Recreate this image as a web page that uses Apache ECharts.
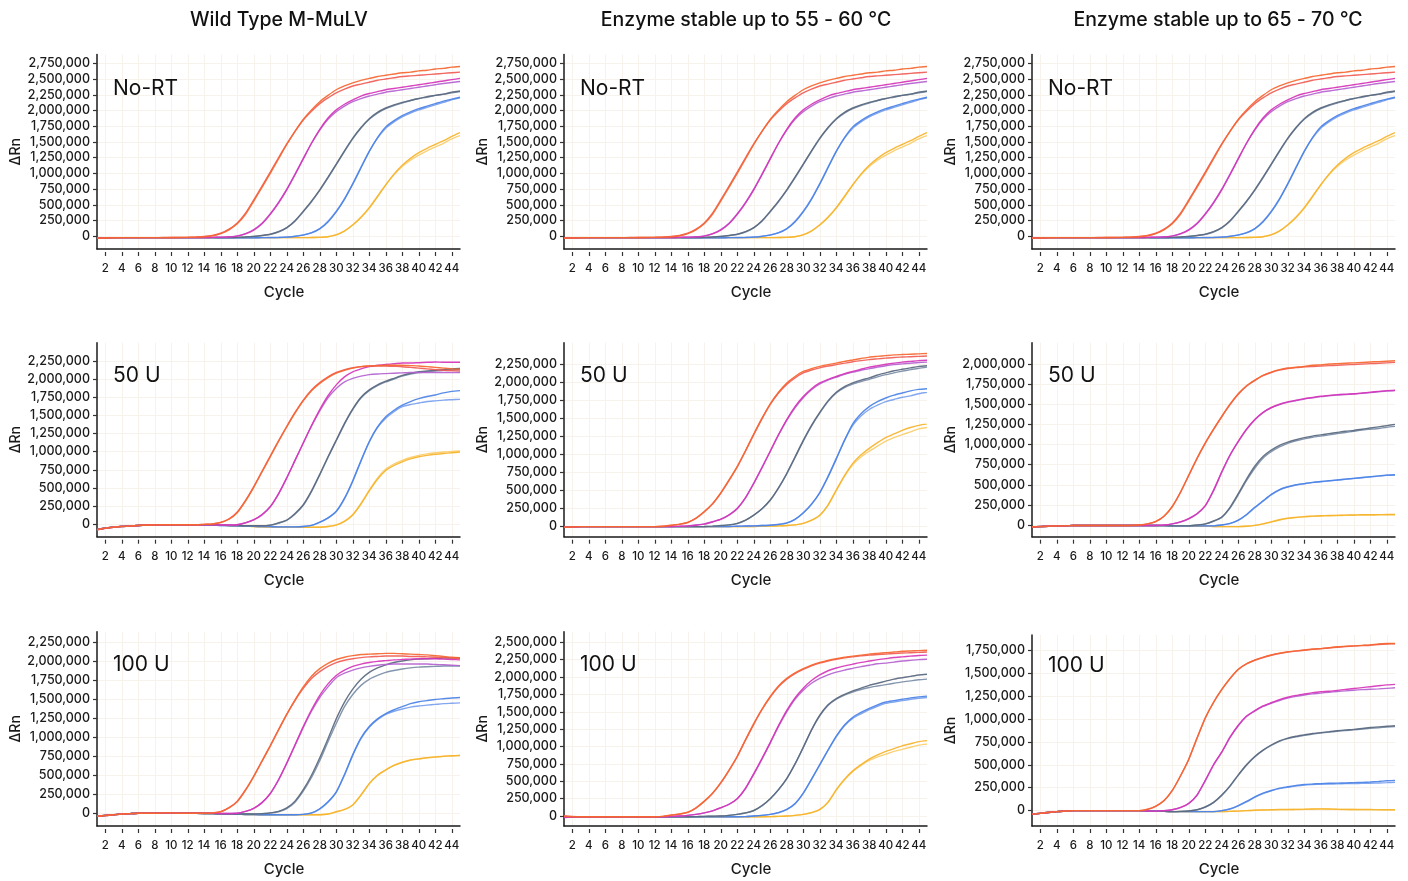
<!DOCTYPE html>
<html><head><meta charset="utf-8">
<script src="https://cdn.jsdelivr.net/npm/echarts@6/dist/echarts.min.js"></script>
<style>html,body{margin:0;padding:0;background:#fff}#chart{width:1408px;height:881px}</style>
</head><body><div id="chart"></div>
<script>
// ---------- categories / labels ----------
const cycles = [1,2,3,4,5,6,7,8,9,10,11,12,13,14,15,16,17,18,19,20,21,22,23,24,25,26,27,28,29,30,31,32,33,34,35,36,37,38,39,40,41,42,43,44,45];
const colTitles = ['Wild Type M-MuLV', 'Enzyme stable up to 55 - 60 °C', 'Enzyme stable up to 65 - 70 °C'];
const rowLabels = ['No-RT', '50 U', '100 U'];
const xTicks = [2,4,6,8,10,12,14,16,18,20,22,24,26,28,30,32,34,36,38,40,42,44];
const yTicks2750 = [0,250000,500000,750000,1000000,1250000,1500000,1750000,2000000,2250000,2500000,2750000];
const yTicks2500 = [0,250000,500000,750000,1000000,1250000,1500000,1750000,2000000,2250000,2500000];
const yTicks2250 = [0,250000,500000,750000,1000000,1250000,1500000,1750000,2000000,2250000];
const yTicks2000 = [0,250000,500000,750000,1000000,1250000,1500000,1750000,2000000];
const yTicks1750 = [0,250000,500000,750000,1000000,1250000,1500000,1750000];

// ---------- ΔRn values (thousands), cycles 1..45 ----------
// No-RT (same in all three columns)
const nrRed1 = [-30,-25,-22,-20,-20,-20,-20,-20,-20,-18,-18,-15,-12,-5,10,45,105,200,350,560,780,1000,1230,1460,1670,1860,2010,2140,2240,2330,2390,2440,2480,2510,2540,2560,2580,2600,2610,2630,2640,2660,2670,2690,2700];
const nrRed2 = [-25,-22,-20,-20,-20,-20,-20,-20,-18,-18,-16,-14,-10,-2,15,50,115,215,370,580,800,1020,1250,1470,1670,1850,1990,2110,2200,2280,2340,2390,2420,2450,2480,2500,2520,2540,2550,2560,2570,2580,2590,2600,2610];
const nrMag1 = [-25,-22,-20,-20,-20,-20,-20,-20,-20,-20,-20,-20,-20,-18,-16,-12,-8,5,40,100,200,350,530,740,980,1230,1480,1700,1880,2010,2100,2170,2230,2270,2300,2330,2350,2370,2390,2410,2430,2450,2470,2490,2510];
const nrMag2 = [-28,-24,-20,-20,-20,-20,-20,-20,-20,-20,-20,-20,-20,-18,-16,-12,-6,8,45,110,210,360,540,750,990,1240,1480,1690,1860,1980,2070,2140,2190,2230,2260,2290,2310,2330,2350,2370,2390,2410,2430,2445,2460];
const nrGray1 = [-25,-22,-20,-20,-20,-20,-20,-20,-20,-20,-20,-20,-20,-20,-20,-20,-18,-15,-10,0,15,35,75,140,250,400,560,740,940,1150,1360,1560,1730,1870,1970,2040,2090,2130,2160,2190,2220,2240,2260,2290,2310];
const nrGray2 = [-22,-20,-20,-20,-20,-20,-20,-20,-20,-20,-20,-20,-20,-20,-20,-20,-18,-15,-10,-2,12,32,70,135,240,390,550,730,930,1140,1350,1550,1720,1860,1960,2030,2080,2120,2160,2190,2210,2240,2260,2280,2300];
const nrBlue1 = [-25,-22,-20,-20,-20,-20,-20,-20,-20,-20,-20,-20,-20,-20,-20,-22,-22,-22,-22,-22,-20,-20,-18,-12,0,20,55,120,230,390,590,830,1090,1350,1570,1740,1840,1920,1980,2030,2070,2110,2150,2180,2210];
const nrBlue2 = [-22,-20,-20,-20,-20,-20,-20,-20,-20,-20,-20,-20,-20,-20,-20,-22,-22,-22,-22,-22,-20,-18,-16,-10,2,25,60,125,240,400,600,840,1100,1350,1560,1720,1820,1900,1960,2010,2050,2090,2130,2170,2200];
const nrYel1 = [-25,-22,-20,-20,-20,-20,-20,-20,-20,-20,-20,-20,-20,-20,-20,-20,-20,-20,-20,-20,-20,-20,-20,-20,-20,-20,-18,-15,-5,25,85,180,300,450,630,820,990,1130,1240,1330,1400,1460,1520,1590,1650];
const nrYel2 = [-22,-20,-20,-20,-20,-20,-20,-20,-20,-20,-20,-20,-20,-20,-20,-20,-20,-20,-20,-20,-20,-20,-20,-20,-20,-20,-18,-14,-3,28,90,185,310,460,640,820,980,1110,1210,1290,1360,1420,1480,1550,1600];

// Wild Type, 50 U
const wt50Red1 = [-75,-55,-40,-30,-25,-15,-10,-8,-5,-5,-5,-5,-5,0,5,25,70,160,320,510,720,930,1140,1340,1530,1700,1840,1940,2020,2080,2120,2150,2170,2180,2185,2190,2190,2190,2185,2180,2170,2160,2150,2140,2135];
const wt50Red2 = [-70,-50,-38,-28,-22,-15,-10,-8,-5,-5,-5,-5,-5,0,6,28,75,170,330,520,730,940,1150,1350,1540,1710,1850,1950,2030,2090,2130,2155,2170,2180,2180,2180,2175,2170,2160,2150,2140,2130,2120,2115,2110];
const wt50Mag1 = [-75,-55,-40,-30,-25,-15,-10,-8,-5,-5,-5,-5,-5,-5,-5,-8,-10,-5,20,60,130,240,420,640,880,1120,1360,1580,1770,1920,2030,2100,2140,2170,2190,2200,2210,2220,2220,2225,2230,2235,2230,2230,2230];
const wt50Mag2 = [-72,-52,-38,-28,-22,-15,-10,-8,-5,-5,-5,-5,-5,-5,-5,-8,-10,-5,22,65,135,245,420,640,880,1120,1350,1560,1740,1870,1960,2010,2040,2060,2070,2075,2080,2085,2090,2090,2090,2090,2090,2090,2090];
const wt50Gray1 = [-70,-50,-38,-28,-22,-15,-10,-8,-5,-5,-5,-5,-5,-8,-10,-12,-15,-18,-20,-20,-20,-10,20,60,150,270,460,690,930,1160,1390,1590,1750,1850,1920,1970,2010,2050,2080,2100,2110,2120,2130,2140,2145];
const wt50Gray2 = [-72,-52,-40,-30,-24,-16,-10,-8,-5,-5,-5,-5,-5,-8,-10,-12,-15,-18,-20,-20,-20,-12,15,55,140,260,450,680,920,1150,1380,1580,1740,1840,1910,1960,2000,2040,2070,2090,2100,2110,2120,2125,2130];
const wt50Blue1 = [-70,-50,-38,-28,-22,-15,-10,-8,-5,-5,-5,-5,-8,-10,-12,-15,-18,-20,-25,-28,-30,-32,-35,-35,-35,-30,-15,30,90,180,360,600,880,1140,1340,1480,1570,1640,1690,1730,1760,1780,1810,1830,1840];
const wt50Blue2 = [-72,-52,-40,-30,-24,-16,-10,-8,-5,-5,-5,-5,-8,-10,-12,-15,-18,-20,-25,-28,-30,-32,-35,-35,-35,-30,-15,28,85,175,350,590,870,1130,1330,1460,1550,1620,1650,1670,1690,1700,1710,1715,1720];
const wt50Yel1 = [-70,-50,-38,-28,-22,-15,-10,-8,-5,-5,-5,-5,-5,-5,-5,-10,-15,-20,-25,-30,-35,-38,-40,-40,-40,-40,-40,-40,-30,-10,40,130,280,460,620,740,810,860,900,930,950,965,975,985,995];
const wt50Yel2 = [-72,-52,-40,-30,-24,-16,-10,-8,-5,-5,-5,-5,-5,-5,-5,-10,-15,-20,-25,-30,-35,-38,-40,-40,-40,-40,-40,-40,-30,-8,45,135,290,470,635,760,830,880,920,950,970,985,995,1005,1010];

// 55-60 °C enzyme, 50 U
const e50Red1 = [-20,-15,-10,-10,-10,-10,-10,-10,-10,-10,-10,-10,-5,10,25,50,110,200,310,460,640,830,1050,1280,1500,1700,1860,1990,2080,2150,2190,2220,2245,2265,2290,2310,2330,2350,2360,2370,2380,2385,2390,2395,2400];
const e50Red2 = [-18,-14,-10,-10,-10,-10,-10,-10,-10,-10,-10,-10,-5,8,22,48,105,195,305,455,630,820,1040,1270,1490,1690,1850,1970,2060,2130,2170,2200,2225,2245,2265,2285,2300,2315,2325,2335,2345,2350,2355,2360,2365];
const e50Mag1 = [-20,-15,-10,-10,-10,-10,-10,-10,-10,-10,-10,-10,-10,-8,-5,0,10,25,55,90,150,240,390,590,810,1040,1270,1480,1660,1800,1910,1990,2040,2080,2120,2150,2180,2210,2230,2250,2265,2280,2290,2300,2305];
const e50Mag2 = [-18,-14,-10,-10,-10,-10,-10,-10,-10,-10,-10,-10,-10,-8,-5,0,12,28,58,95,155,245,395,595,815,1040,1265,1470,1645,1785,1895,1975,2030,2070,2110,2140,2165,2190,2210,2230,2245,2255,2265,2275,2280];
const e50Gray1 = [-20,-15,-10,-10,-10,-10,-10,-10,-10,-10,-10,-10,-10,-10,-10,-10,-10,-8,-3,5,15,35,80,150,240,360,530,730,960,1190,1400,1580,1740,1860,1940,1990,2030,2060,2100,2130,2160,2180,2200,2220,2230];
const e50Gray2 = [-18,-14,-10,-10,-10,-10,-10,-10,-10,-10,-10,-10,-10,-10,-10,-10,-10,-8,-3,4,14,33,78,148,238,358,525,725,950,1180,1390,1570,1730,1850,1925,1975,2010,2040,2075,2105,2130,2155,2175,2195,2210];
const e50Blue1 = [-20,-15,-10,-10,-10,-10,-10,-10,-10,-10,-10,-10,-10,-10,-10,-10,-10,-10,-10,-10,-8,-5,-2,0,5,10,20,40,90,180,300,460,680,930,1190,1420,1560,1660,1730,1780,1820,1850,1880,1900,1910];
const e50Blue2 = [-18,-14,-10,-10,-10,-10,-10,-10,-10,-10,-10,-10,-10,-10,-10,-10,-10,-10,-10,-10,-8,-5,-2,0,5,10,22,42,92,182,305,465,690,940,1190,1400,1530,1620,1680,1730,1760,1790,1810,1840,1860];
const e50Yel1 = [-20,-15,-10,-10,-10,-10,-10,-10,-10,-10,-10,-10,-10,-10,-10,-10,-10,-10,-10,-10,-10,-10,-10,-8,-5,-2,0,5,15,35,80,150,290,500,700,870,990,1080,1160,1230,1280,1330,1370,1400,1420];
const e50Yel2 = [-18,-14,-10,-10,-10,-10,-10,-10,-10,-10,-10,-10,-10,-10,-10,-10,-10,-10,-10,-10,-10,-10,-10,-8,-5,-2,0,5,15,35,78,145,285,490,690,850,960,1040,1110,1180,1230,1270,1310,1350,1370];

// 65-70 °C enzyme, 50 U
const h50Red1 = [-25,-20,-15,-10,-10,-5,-5,-5,-5,-5,-5,-5,-5,0,15,45,110,230,410,620,830,1020,1190,1350,1500,1630,1730,1800,1860,1900,1930,1950,1960,1970,1985,1990,2000,2005,2010,2015,2020,2025,2030,2035,2040];
const h50Red2 = [-22,-18,-14,-10,-10,-5,-5,-5,-5,-5,-5,-5,-5,0,14,43,108,228,405,615,825,1015,1185,1345,1495,1625,1725,1795,1855,1895,1925,1945,1955,1965,1970,1975,1980,1985,1990,1995,2000,2005,2010,2015,2020];
const h50Mag1 = [-25,-20,-15,-10,-10,-5,-5,-5,-5,-5,-5,-5,-5,-5,-5,-5,0,15,40,80,140,240,430,660,870,1040,1190,1310,1400,1460,1500,1530,1550,1570,1585,1600,1610,1620,1625,1630,1640,1650,1660,1670,1675];
const h50Mag2 = [-22,-18,-14,-10,-10,-5,-5,-5,-5,-5,-5,-5,-5,-5,-5,-5,0,14,38,78,138,238,425,655,865,1035,1185,1305,1395,1455,1495,1525,1545,1565,1580,1595,1605,1615,1620,1628,1636,1645,1655,1665,1670];
const h50Gray1 = [-25,-20,-15,-10,-10,-5,-5,-5,-5,-5,-5,-5,-5,-5,-5,-5,-8,-10,-10,-10,0,15,50,100,220,390,570,730,850,930,990,1030,1060,1085,1105,1120,1135,1150,1165,1175,1190,1205,1220,1235,1250];
const h50Gray2 = [-22,-18,-14,-10,-10,-5,-5,-5,-5,-5,-5,-5,-5,-5,-5,-5,-8,-10,-10,-10,-2,12,45,95,210,375,550,705,830,910,970,1015,1045,1070,1090,1105,1120,1135,1150,1165,1180,1190,1200,1215,1225];
const h50Blue1 = [-25,-20,-15,-10,-10,-5,-5,-5,-5,-5,-5,-5,-5,-5,-5,-5,-8,-10,-10,-10,-10,-10,-10,0,20,60,130,220,300,380,440,475,500,515,530,540,550,560,570,580,590,600,610,620,625];
const h50Blue2 = [-22,-18,-14,-10,-10,-5,-5,-5,-5,-5,-5,-5,-5,-5,-5,-5,-8,-10,-10,-10,-10,-10,-10,0,18,58,125,215,295,375,435,470,495,512,527,537,548,558,568,578,588,598,608,618,622];
const h50Yel1 = [-25,-20,-15,-10,-10,-5,-5,-5,-5,-5,-5,-5,-5,-5,-5,-5,-8,-10,-10,-12,-15,-15,-18,-20,-20,-20,-15,-5,15,40,65,85,95,105,110,115,118,120,123,125,127,128,129,130,130];
const h50Yel2 = [-22,-18,-14,-10,-10,-5,-5,-5,-5,-5,-5,-5,-5,-5,-5,-5,-8,-10,-10,-12,-15,-15,-18,-20,-20,-20,-15,-5,14,38,62,82,93,102,108,112,115,118,120,122,124,125,126,127,128];

// Wild Type, 100 U
const wt100Red1 = [-40,-30,-20,-10,-5,0,0,0,5,5,0,0,0,0,5,20,70,150,300,480,680,880,1090,1300,1490,1660,1800,1900,1970,2020,2050,2070,2085,2090,2095,2100,2100,2095,2090,2085,2080,2070,2060,2050,2045];
const wt100Red2 = [-38,-28,-18,-10,-5,0,0,0,5,5,0,0,0,0,5,22,75,160,310,490,690,890,1100,1300,1480,1640,1770,1860,1930,1980,2010,2030,2045,2055,2060,2065,2065,2065,2060,2060,2055,2050,2045,2040,2030];
const wt100Mag1 = [-40,-30,-20,-10,-5,0,0,0,5,5,0,0,0,0,0,-2,-2,0,25,65,140,260,440,660,900,1140,1360,1550,1700,1810,1880,1930,1960,1980,1995,2005,2015,2020,2025,2030,2030,2030,2025,2020,2015];
const wt100Mag2 = [-38,-28,-18,-10,-5,0,0,0,5,5,0,0,0,0,0,-2,-2,0,25,65,140,258,435,655,890,1125,1340,1520,1660,1780,1840,1880,1910,1930,1945,1955,1960,1960,1960,1960,1960,1955,1950,1945,1940];
const wt100Gray1 = [-40,-30,-20,-10,-5,0,0,0,5,5,0,0,0,-2,-5,-8,-10,-10,-10,-10,-5,5,25,70,160,310,500,730,980,1240,1460,1630,1760,1850,1910,1950,1980,2000,2015,2025,2030,2035,2040,2040,2040];
const wt100Gray2 = [-38,-28,-18,-10,-5,0,0,0,5,5,0,0,0,-2,-5,-8,-10,-10,-10,-10,-5,3,20,62,145,290,470,690,940,1180,1400,1560,1680,1760,1810,1850,1875,1895,1910,1920,1925,1930,1935,1935,1935];
const wt100Blue1 = [-40,-30,-20,-10,-5,0,0,0,5,5,0,0,0,-2,-5,-8,-10,-12,-15,-18,-20,-20,-20,-20,-20,-15,5,60,150,280,510,770,990,1140,1240,1310,1360,1400,1440,1465,1480,1495,1505,1515,1520];
const wt100Blue2 = [-38,-28,-18,-10,-5,0,0,0,5,5,0,0,0,-2,-5,-8,-10,-12,-15,-18,-20,-20,-20,-20,-20,-15,3,55,145,275,500,760,980,1130,1230,1300,1340,1370,1395,1410,1420,1430,1440,1445,1450];
const wt100Yel1 = [-40,-30,-20,-10,-5,0,0,0,5,5,0,0,0,-2,-5,-8,-10,-12,-15,-18,-20,-20,-20,-20,-20,-20,-20,-20,-10,20,50,110,240,390,500,570,630,670,700,715,730,740,750,755,760];
const wt100Yel2 = [-38,-28,-18,-10,-5,0,0,0,5,5,0,0,0,-2,-5,-8,-10,-12,-15,-18,-20,-20,-20,-20,-20,-20,-20,-20,-10,18,48,108,238,388,498,568,628,668,698,713,728,738,748,753,758];

// 55-60 °C enzyme, 100 U
const e100Red1 = [-5,-10,-10,-10,-10,-10,-10,-10,-10,-10,-10,-10,-5,15,30,55,120,215,330,480,660,860,1100,1330,1540,1720,1870,1980,2060,2120,2170,2210,2240,2265,2285,2300,2315,2330,2340,2350,2360,2370,2375,2380,2385];
const e100Red2 = [5,-5,-10,-10,-10,-10,-10,-10,-10,-10,-10,-10,-5,13,28,52,115,210,325,475,655,855,1090,1320,1530,1710,1860,1970,2050,2110,2160,2200,2230,2255,2275,2290,2305,2315,2325,2330,2338,2345,2350,2355,2360];
const e100Mag1 = [-20,-15,-12,-10,-10,-10,-10,-10,-10,-10,-10,-10,-10,-5,0,10,25,45,75,120,170,250,400,610,830,1060,1300,1520,1700,1840,1950,2030,2090,2130,2160,2185,2210,2230,2250,2265,2280,2290,2300,2310,2315];
const e100Mag2 = [-18,-14,-12,-10,-10,-10,-10,-10,-10,-10,-10,-10,-10,-5,0,10,25,45,75,118,168,248,395,600,820,1050,1290,1500,1680,1810,1910,1980,2030,2070,2100,2125,2150,2170,2190,2200,2215,2230,2240,2250,2255];
const e100Gray1 = [-10,-10,-10,-10,-10,-10,-10,-10,-10,-10,-10,-10,-10,-10,-10,-10,-8,-5,-2,0,10,25,45,80,150,250,380,540,750,990,1240,1450,1600,1690,1750,1800,1840,1880,1910,1940,1970,1990,2010,2030,2040];
const e100Gray2 = [-10,-10,-10,-10,-10,-10,-10,-10,-10,-10,-10,-10,-10,-10,-10,-10,-8,-5,-2,0,10,24,44,78,148,248,378,538,745,985,1235,1440,1590,1680,1740,1785,1820,1850,1870,1890,1910,1930,1945,1960,1970];
const e100Blue1 = [-10,-10,-10,-10,-10,-10,-10,-10,-10,-10,-10,-10,-10,-10,-10,-10,-10,-10,-10,-10,-10,-10,-8,0,10,25,50,95,180,330,530,740,950,1150,1310,1420,1490,1550,1600,1640,1660,1680,1700,1715,1725];
const e100Blue2 = [-10,-10,-10,-10,-10,-10,-10,-10,-10,-10,-10,-10,-10,-10,-10,-10,-10,-10,-10,-10,-10,-10,-8,0,10,25,48,92,175,325,525,735,945,1140,1300,1405,1470,1530,1580,1620,1640,1660,1680,1695,1705];
const e100Yel1 = [-10,-10,-10,-10,-10,-10,-10,-10,-10,-10,-10,-10,-10,-10,-10,-10,-10,-10,-10,-10,-10,-10,-10,-10,-10,-8,-5,0,10,25,50,95,200,380,530,650,740,820,880,930,970,1010,1040,1070,1085];
const e100Yel2 = [-10,-10,-10,-10,-10,-10,-10,-10,-10,-10,-10,-10,-10,-10,-10,-10,-10,-10,-10,-10,-10,-10,-10,-10,-10,-8,-5,0,10,25,48,92,195,370,520,640,730,800,850,890,930,960,990,1020,1035];

// 65-70 °C enzyme, 100 U
const h100Red1 = [-40,-30,-20,-10,-5,0,0,0,0,0,0,0,0,0,15,50,110,220,380,560,790,1010,1180,1320,1440,1540,1600,1640,1670,1695,1715,1730,1740,1750,1760,1765,1775,1785,1790,1795,1800,1805,1815,1820,1820];
const h100Red2 = [-38,-28,-18,-10,-5,0,0,0,0,0,0,0,0,0,14,48,108,218,378,558,788,1008,1178,1318,1438,1538,1598,1638,1668,1692,1712,1727,1737,1747,1757,1762,1772,1780,1786,1792,1797,1802,1810,1815,1818];
const h100Mag1 = [-40,-30,-20,-10,-5,0,0,0,0,0,0,0,0,0,-3,-5,0,10,35,80,170,330,500,640,800,930,1030,1090,1140,1175,1210,1235,1255,1270,1285,1295,1300,1310,1320,1330,1340,1350,1360,1370,1375];
const h100Mag2 = [-38,-28,-18,-10,-5,0,0,0,0,0,0,0,0,0,-3,-5,0,10,33,78,168,325,495,635,795,925,1025,1085,1135,1170,1200,1225,1245,1260,1272,1280,1290,1298,1305,1312,1318,1322,1326,1332,1338];
const h100Gray1 = [-40,-30,-20,-10,-5,0,0,0,0,0,0,0,0,0,-3,-5,-8,-10,-8,-3,10,40,90,170,270,390,500,590,660,715,760,790,810,825,840,850,860,870,878,885,895,905,912,920,925];
const h100Gray2 = [-38,-28,-18,-10,-5,0,0,0,0,0,0,0,0,0,-3,-5,-8,-10,-8,-3,8,38,88,166,265,385,495,585,655,710,755,785,805,820,835,845,855,865,872,880,888,896,903,910,915];
const h100Blue1 = [-40,-30,-20,-10,-5,0,0,0,0,0,0,0,0,0,-3,-5,-8,-10,-10,-10,-10,-10,-10,0,20,55,100,150,190,220,245,260,275,285,290,295,298,300,302,305,308,312,318,325,330];
const h100Blue2 = [-38,-28,-18,-10,-5,0,0,0,0,0,0,0,0,0,-3,-5,-8,-10,-10,-10,-10,-10,-10,0,18,52,95,145,185,215,240,255,268,278,284,288,290,292,294,295,297,299,301,305,310];
const h100Yel1 = [-40,-30,-20,-10,-5,0,0,0,0,0,0,0,0,0,-3,-5,-8,-10,-10,-10,-10,-10,-10,-10,-8,-5,0,5,8,10,12,12,14,15,18,20,18,15,14,13,12,12,11,10,10];
const h100Yel2 = [-38,-28,-18,-10,-5,0,0,0,0,0,0,0,0,0,-3,-5,-8,-10,-10,-10,-10,-10,-10,-10,-8,-5,0,4,7,9,11,11,13,14,16,18,17,14,13,12,11,11,10,9,9];

const UNIT = 1000;

// ---------- panel assembly ----------
const noRT = [[nrRed1,nrRed2],[nrMag1,nrMag2],[nrGray1,nrGray2],[nrBlue1,nrBlue2],[nrYel1,nrYel2]];
const panels = [
  {row:0,col:0,lines:noRT,yMin:-200000,yMax:2890000,ticks:yTicks2750},
  {row:0,col:1,lines:noRT,yMin:-200000,yMax:2890000,ticks:yTicks2750},
  {row:0,col:2,lines:noRT,yMin:-200000,yMax:2890000,ticks:yTicks2750},
  {row:1,col:0,lines:[[wt50Red1,wt50Red2],[wt50Mag1,wt50Mag2],[wt50Gray1,wt50Gray2],[wt50Blue1,wt50Blue2],[wt50Yel1,wt50Yel2]],yMin:-170000,yMax:2500000,ticks:yTicks2250},
  {row:1,col:1,lines:[[e50Red1,e50Red2],[e50Mag1,e50Mag2],[e50Gray1,e50Gray2],[e50Blue1,e50Blue2],[e50Yel1,e50Yel2]],yMin:-150000,yMax:2550000,ticks:yTicks2250},
  {row:1,col:2,lines:[[h50Red1,h50Red2],[h50Mag1,h50Mag2],[h50Gray1,h50Gray2],[h50Blue1,h50Blue2],[h50Yel1,h50Yel2]],yMin:-145000,yMax:2265000,ticks:yTicks2000},
  {row:2,col:0,lines:[[wt100Red1,wt100Red2],[wt100Mag1,wt100Mag2],[wt100Gray1,wt100Gray2],[wt100Blue1,wt100Blue2],[wt100Yel1,wt100Yel2]],yMin:-167000,yMax:2385000,ticks:yTicks2250},
  {row:2,col:1,lines:[[e100Red1,e100Red2],[e100Mag1,e100Mag2],[e100Gray1,e100Gray2],[e100Blue1,e100Blue2],[e100Yel1,e100Yel2]],yMin:-143000,yMax:2652000,ticks:yTicks2500},
  {row:2,col:2,lines:[[h100Red1,h100Red2],[h100Mag1,h100Mag2],[h100Gray1,h100Gray2],[h100Blue1,h100Blue2],[h100Yel1,h100Yel2]],yMin:-167000,yMax:1913000,ticks:yTicks1750}
];

const lineColors = [['#f5662f','#f05c55'],['#d634b8','#b462d0'],['#59687f','#7a8da6'],['#4a82e6','#78a0ee'],['#f6b32a','#fbcd6a']];
const FONT = 'Inter, "Noto Sans", sans-serif';
const colLeft = [97, 564, 1032];
const colTitleX = [279, 746, 1218];
const rowTop = [54.5, 342.7, 631.7];
const rowHeight = [194.5, 194, 194.3];
const rowLabelY = [89, 375.7, 665];
const PW = 363;
const gridColor = '#f7f2ec';
const fmt = v => String(Math.round(v)).replace(/\B(?=(\d{3})+(?!\d))/g, ',');

const grid = [], xAxis = [], yAxis = [], series = [], graphic = [];
panels.forEach((p, i) => {
  let top = rowTop[p.row], h = rowHeight[p.row];
  if (p.row === 2 && p.col === 2) { top = 635; h = 191; }
  grid.push({left: colLeft[p.col], top: top, width: PW, height: h, containLabel: false});
  xAxis.push({
    type:'value', gridIndex:i, min:1, max:45, position:'bottom',
    axisLine:{show:true, onZero:false, lineStyle:{color:'#1a1a1a', width:1.5}},
    axisTick:{show:false, customValues:xTicks},
    axisLabel:{show:false, customValues:xTicks},
    splitLine:{show:true, lineStyle:{color:gridColor, width:1}},
    name:'Cycle', nameLocation:'middle', nameGap:36,
    nameTextStyle:{fontFamily:FONT, fontSize:15, fontWeight:500, color:'#1a1a1a', padding:[0,0,0,11]}
  });
  xAxis.push({
    type:'value', gridIndex:i, min:1, max:45, position:'bottom', offset:3,
    axisLine:{show:false, onZero:false},
    axisTick:{show:true, length:4, customValues:xTicks, lineStyle:{color:'#333', width:1.2}},
    axisLabel:{customValues:xTicks, fontFamily:FONT, fontSize:11.5, fontWeight:500, color:'#1a1a1a', margin:11},
    splitLine:{show:false}
  });
  yAxis.push({
    type:'value', gridIndex:i, min:p.yMin, max:p.yMax,
    axisLine:{show:true, onZero:false, lineStyle:{color:'#1a1a1a', width:1.5}},
    axisTick:{show:true, length:4, customValues:p.ticks, lineStyle:{color:'#333', width:1.2}},
    axisLabel:{customValues:p.ticks, formatter:fmt, fontFamily:FONT, fontSize:12.5, fontWeight:500, color:'#1a1a1a', margin:7},
    splitLine:{show:true, lineStyle:{color:gridColor, width:1}},
    name:'ΔRn', nameLocation:'middle', nameGap:74, nameRotate:90,
    nameTextStyle:{fontFamily:FONT, fontSize:14, fontWeight:500, color:'#1a1a1a'}
  });
  p.lines.forEach((pair, t) => {
    pair.forEach((vals, r) => {
      series.push({
        type:'line', xAxisIndex:2*i, yAxisIndex:i, showSymbol:false, smooth:0.2,
        silent:true, clip:true, z: 20 - 2*t - r,
        lineStyle:{color:lineColors[t][r], width:1.4, opacity:0.92},
        data: cycles.map((c, k) => [c, vals[k] * UNIT])
      });
    });
  });
  graphic.push({
    type:'text', x: colLeft[p.col] + 16, y: (p.row === 2 && p.col === 2) ? 665.7 : rowLabelY[p.row],
    style:{text: rowLabels[p.row], fontFamily:FONT, fontSize:21, fontWeight:400, fill:'#111', textAlign:'left', textVerticalAlign:'middle'},
    z: 100
  });
});
colTitles.forEach((t, c) => {
  graphic.push({
    type:'text', x: colTitleX[c], y: 20,
    style:{text: t, fontFamily:FONT, fontSize:19.5, fontWeight:500, fill:'#111', textAlign:'center', textVerticalAlign:'middle'}
  });
});

const chart = echarts.init(document.getElementById('chart'), null, {renderer:'canvas'});
chart.setOption({
  animation:false,
  backgroundColor:'#ffffff',
  grid, xAxis, yAxis, series, graphic
});
</script></body></html>
